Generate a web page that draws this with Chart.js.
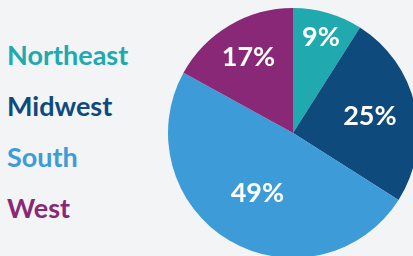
<!DOCTYPE html>
<html>
<head>
<meta charset="utf-8">
<script src="https://cdn.jsdelivr.net/npm/chart.js@4"></script>
<style>
  html, body { margin: 0; padding: 0; background: #f3f4f6; }
  #wrapper { position: relative; width: 413px; height: 256px; overflow: hidden; background: #f3f4f6; }
  #legend { position: absolute; left: 7px; top: 0; font-family: Lato, sans-serif; font-weight: bold; font-size: 27px; }
  #legend div { position: absolute; left: 0; white-space: nowrap; line-height: 1; }
  #box { position: absolute; left: 168px; top: 8px; width: 250px; height: 250px; }
</style>
</head>
<body>
<div id="wrapper">
  <div id="legend"></div>
  <div id="box"><canvas id="chart" width="250" height="250"></canvas></div>
</div>
<script>
let regions = ["Northeast", "Midwest", "South", "West"];
let shares = [9, 25, 49, 17];
let colors = ["#20a9ae", "#0f4a7c", "#3d9bd8", "#8a2878"];
// how far out each percent label sits, as part of the radius
let labelRadius = [0.8, 0.63, 0.56, 0.7];

// legend on the left, same colours as the slices
let legend = document.getElementById("legend");
regions.forEach((name, i) => {
  let row = document.createElement("div");
  row.textContent = name;
  row.style.color = colors[i];
  row.style.top = 41 + i * 51 + "px";
  legend.appendChild(row);
});

// white percent labels inside the slices
const sliceLabels = {
  id: "sliceLabels",
  afterDatasetsDraw(chart) {
    let ctx = chart.ctx;
    let meta = chart.getDatasetMeta(0);
    ctx.save();
    ctx.fillStyle = "#ffffff";
    ctx.font = "bold 27px Lato";
    ctx.textAlign = "center";
    ctx.textBaseline = "middle";
    meta.data.forEach((arc, i) => {
      let mid = (arc.startAngle + arc.endAngle) / 2;
      let r = arc.outerRadius * labelRadius[i];
      ctx.fillText(shares[i] + "%", arc.x + Math.cos(mid) * r, arc.y + Math.sin(mid) * r);
    });
    ctx.restore();
  },
};

const config = {
  type: "pie",
  data: {
    labels: regions,
    datasets: [
      {
        data: shares,
        backgroundColor: colors,
        borderWidth: 0,
      },
    ],
  },
  options: {
    responsive: false,
    animation: false,
    layout: { padding: 0 },
    plugins: {
      legend: { display: false },
      tooltip: { enabled: false },
    },
  },
  plugins: [sliceLabels],
};

let chart = new Chart(document.getElementById("chart"), config);
</script>
</body>
</html>
